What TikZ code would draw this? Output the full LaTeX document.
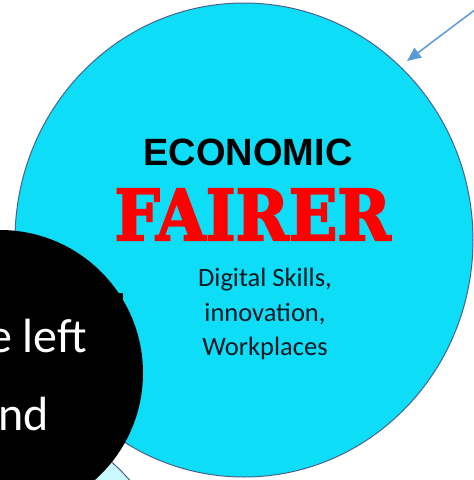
\documentclass[tikz,border=0pt]{standalone}
\usepackage{fontspec}
\setmainfont{Carlito}
\newfontfamily\arialfont{Liberation Sans}
\newfontfamily\slabfont{DejaVu Serif}
\usetikzlibrary{shapes.geometric,arrows.meta}
\definecolor{cyanfill}{RGB}{14,221,247}
\definecolor{lightcyan}{RGB}{200,250,255}
\definecolor{edgeblue}{RGB}{70,100,140}
\definecolor{arrowblue}{RGB}{91,155,213}
\definecolor{darktext}{RGB}{5,25,35}
\newcommand{\heavytext}[1]{\special{pdf:literal direct 2 Tr 0.3 w}#1\special{pdf:literal direct 0 Tr}}
\begin{document}
\begin{tikzpicture}[x=1pt,y=-1pt,
  bigcirc/.style={ellipse,draw=edgeblue,line width=1pt,fill=cyanfill,inner sep=0pt,outer sep=0pt},
  blackcirc/.style={circle,fill=black,inner sep=0pt,outer sep=0pt},
  lowcirc/.style={circle,draw=edgeblue,line width=1pt,fill=lightcyan,inner sep=0pt},
  subtext/.style={font=\fontsize{26.5}{34}\selectfont,text=darktext,inner sep=0pt},
  whitetext/.style={font=\fontsize{48}{58}\selectfont,text=white,inner sep=0pt,anchor=base west},
  pointer/.style={draw=arrowblue,line width=1.5pt,-{Triangle[length=14pt,width=12pt]}}
]
\useasboundingbox (0,0) rectangle (474,480);
\fill[white] (0,0) rectangle (474,480);
\node[lowcirc,minimum size=481pt] (low) at (-50,640) {};
\node[bigcirc,minimum width=458pt,minimum height=474pt] (econ) at (244,240) {};
\node[blackcirc,minimum size=286pt] (blk) at (0,373) {};
\fill[black] (117,293) rectangle (123,306);
\node[font=\arialfont\bfseries\fontsize{38}{44}\selectfont,anchor=base,inner sep=0pt] (econtitle) at (248,165) {ECONOMIC};
\node[anchor=base,inner sep=0pt,text=red] (fairer) at (252.5,240) {\color{red}\resizebox{276pt}{51pt}{\slabfont\bfseries\heavytext{FAIRER}}};
\node[subtext,anchor=base] (l1) at (265,286) {Digital Skills,};
\node[subtext,anchor=base] (l2) at (265,321) {innovation,};
\node[subtext,anchor=base] (l3) at (265,355) {Workplaces};
\node[whitetext] (left) at (-12,352) {e left};
\node[whitetext] (nd) at (-2,430) {nd};
\coordinate (astart) at (488,0);
\coordinate (atip) at (407,61);
\draw[pointer] (astart) -- (atip);
\end{tikzpicture}
\end{document}
